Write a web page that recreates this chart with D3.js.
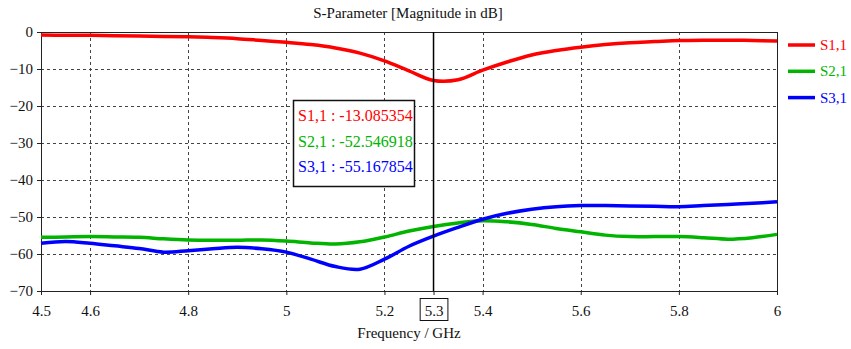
<!DOCTYPE html>
<html>
<head>
<meta charset="utf-8">
<script src="https://cdn.jsdelivr.net/npm/d3@7"></script>
<style>
  html, body { margin: 0; padding: 0; background: #fff; }
  svg { display: block; }
  svg text { font-family: "Liberation Serif", "Times New Roman", Times, "DejaVu Serif", serif !important; }
</style>
</head>
<body>
<svg id="chart" width="851" height="349"></svg>
<script>
// ---- data ----
const freq = [4.5, 4.55, 4.6, 4.65, 4.7, 4.75, 4.8, 4.85, 4.9, 4.95, 5.0, 5.05, 5.1, 5.15, 5.2, 5.25, 5.3, 5.35, 5.4, 5.45, 5.5, 5.55, 5.6, 5.65, 5.7, 5.75, 5.8, 5.85, 5.9, 5.95, 6.0];
const s11 = [-0.8, -0.9, -0.9, -1.0, -1.1, -1.2, -1.3, -1.5, -1.8, -2.3, -2.8, -3.4, -4.3, -5.7, -7.8, -10.5, -13.085354, -12.9, -10.3, -8.1, -6.2, -5.0, -4.1, -3.4, -2.9, -2.6, -2.3, -2.2, -2.2, -2.3, -2.4];
const s21 = [-55.5, -55.4, -55.3, -55.4, -55.5, -55.9, -56.2, -56.3, -56.3, -56.2, -56.5, -57.0, -57.3, -56.7, -55.4, -53.8, -52.546918, -51.6, -51.0, -51.3, -52.0, -53.1, -54.0, -54.9, -55.3, -55.3, -55.3, -55.6, -56.0, -55.6, -54.7];
const s31 = [-57.1, -56.6, -57.1, -57.8, -58.5, -59.5, -59.1, -58.6, -58.2, -58.6, -59.5, -61.4, -63.4, -64.1, -61.4, -57.9, -55.167854, -52.8, -50.6, -49.0, -47.9, -47.2, -46.9, -46.9, -47.0, -47.1, -47.2, -46.9, -46.6, -46.3, -45.9];
const seriesNames = ["S1,1", "S2,1", "S3,1"];
const seriesColors = ["#ff0000", "#00b400", "#0000ff"];
const xTicks = [4.5, 4.6, 4.8, 5, 5.2, 5.3, 5.4, 5.6, 5.8, 6];
const xGrid = [4.6, 4.8, 5.0, 5.2, 5.4, 5.6, 5.8];
const yTicks = [0, -10, -20, -30, -40, -50, -60, -70];
const yGrid = [-10, -20, -30, -40, -50, -60];
const markerFreq = 5.3;
const markerValues = ["-13.085354", "-52.546918", "-55.167854"];
const titleText = "S-Parameter [Magnitude in dB]";
const xLabel = "Frequency / GHz";

// ---- layout ----
const FONT = "Liberation Serif, Times New Roman, serif";
const svg = d3.select("#chart");
const L = 41, R = 777, T = 32, B = 291;
const x = d3.scaleLinear().domain([4.5, 6]).range([L, R]);
const y = d3.scaleLinear().domain([0, -70]).range([T, B]);

// grid
const grid = svg.append("g").attr("stroke", "#444").attr("stroke-width", 1).attr("stroke-dasharray", "3,3");
grid.selectAll("line.gx").data(xGrid).join("line")
  .attr("x1", d => Math.round(x(d)) + 0.5).attr("x2", d => Math.round(x(d)) + 0.5)
  .attr("y1", T).attr("y2", B);
grid.selectAll("line.gy").data(yGrid).join("line")
  .attr("y1", d => Math.round(y(d)) + 0.5).attr("y2", d => Math.round(y(d)) + 0.5)
  .attr("x1", L).attr("x2", R);

// frame
svg.append("rect").attr("x", L + 0.5).attr("y", T + 0.5).attr("width", R - L).attr("height", B - T)
  .attr("fill", "none").attr("stroke", "#222").attr("stroke-width", 1);

// axes
const xAxis = d3.axisBottom(x).tickValues(xTicks).tickSize(4).tickPadding(10)
  .tickFormat(d => d3.format("~g")(d));
const gx = svg.append("g").attr("transform", `translate(0,${B})`).call(xAxis)
  .attr("font-family", FONT).attr("font-size", 15);
gx.select(".domain").attr("stroke", "#222");
gx.selectAll(".tick line").attr("stroke", "#222");
gx.selectAll(".tick text").attr("fill", "#111");

const yAxis = d3.axisLeft(y).tickValues(yTicks).tickSize(4).tickPadding(4)
  .tickFormat(d => d3.format("~g")(d));
const gy = svg.append("g").attr("transform", `translate(${L},0)`).call(yAxis)
  .attr("font-family", FONT).attr("font-size", 15);
gy.select(".domain").attr("stroke", "#222");
gy.selectAll(".tick line").attr("stroke", "#222");
gy.selectAll(".tick text").attr("fill", "#111");

// boxed marker tick label
gx.selectAll(".tick").filter(d => d === markerFreq).each(function() {
  const t = d3.select(this).select("text");
  const bb = t.node().getBBox();
  d3.select(this).insert("rect", "text")
    .attr("x", bb.x - 4.5).attr("y", 7.5).attr("width", bb.width + 9).attr("height", 22)
    .attr("fill", "#fff").attr("stroke", "#111").attr("stroke-width", 1);
});

// curves
const allSeries = [s11, s21, s31];
const line = d3.line().x(d => x(d[0])).y(d => y(d[1])).curve(d3.curveCatmullRom.alpha(0.5));
svg.append("g").selectAll("path").data(allSeries).join("path")
  .attr("d", s => line(freq.map((f, i) => [f, s[i]])))
  .attr("fill", "none")
  .attr("stroke", (d, i) => seriesColors[i])
  .attr("stroke-width", 3.5)
  .attr("stroke-linejoin", "round");

// marker line
svg.append("line").attr("x1", x(markerFreq)).attr("x2", x(markerFreq))
  .attr("y1", T).attr("y2", B).attr("stroke", "#000").attr("stroke-width", 1.5);

// marker info box
const mb = svg.append("g").attr("font-family", FONT);
mb.append("rect").attr("x", 293.5).attr("y", 100.5).attr("width", 121).attr("height", 86)
  .attr("fill", "#fff").attr("stroke", "#111").attr("stroke-width", 1.5);
mb.selectAll("text").data(seriesNames).join("text")
  .attr("x", 298).attr("y", (d, i) => 121 + i * 25.5)
  .attr("font-size", 16).attr("fill", (d, i) => seriesColors[i])
  .text((d, i) => `${d} : ${markerValues[i]}`);

// legend
const lg = svg.append("g").attr("font-family", FONT);
seriesNames.forEach((n, i) => {
  const yy = 45 + i * 26.3;
  lg.append("line").attr("x1", 788).attr("x2", 815).attr("y1", yy).attr("y2", yy)
    .attr("stroke", seriesColors[i]).attr("stroke-width", 3.5);
  lg.append("text").attr("x", 820).attr("y", yy + 5).attr("font-size", 15)
    .attr("fill", seriesColors[i]).text(n);
});

// title & axis label
svg.append("text").attr("x", 408).attr("y", 18).attr("text-anchor", "middle")
  .attr("font-family", FONT).attr("font-size", 15).attr("fill", "#111").text(titleText);
svg.append("text").attr("x", 409).attr("y", 338).attr("text-anchor", "middle")
  .attr("font-family", FONT).attr("font-size", 15).attr("fill", "#111").text(xLabel);
</script>
</body>
</html>
